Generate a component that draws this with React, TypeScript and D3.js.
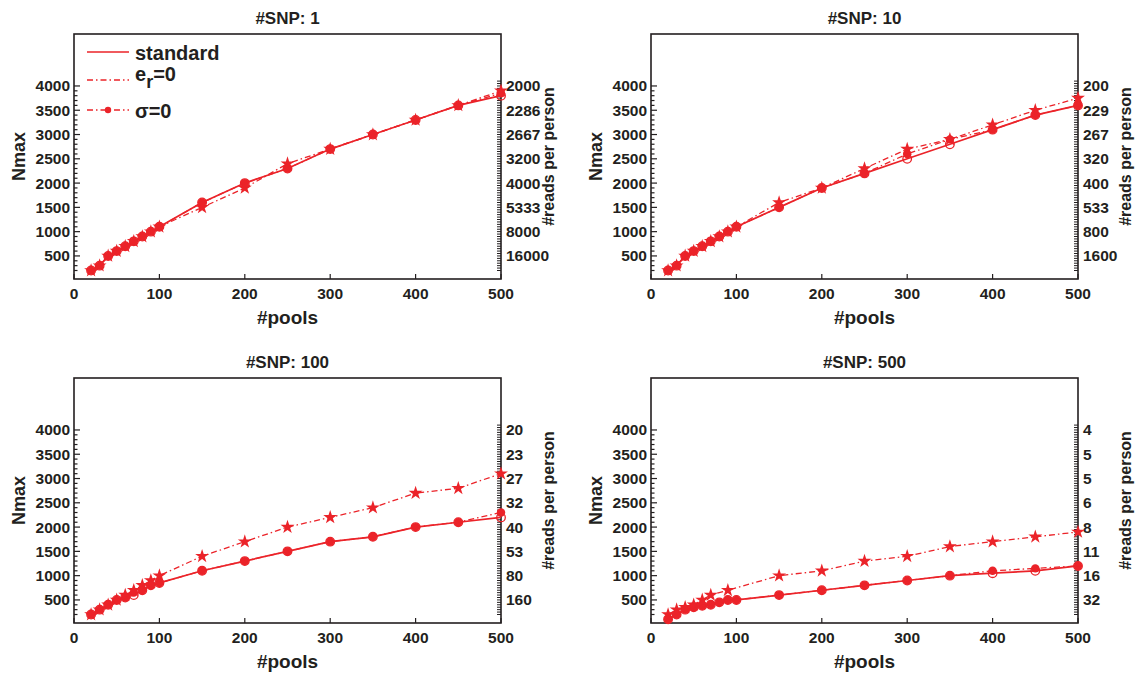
import { useEffect, useRef } from "react";
import * as d3 from "d3";

// x values shared by every panel
const pools = [20, 30, 40, 50, 60, 70, 80, 90, 100, 150, 200, 250, 300, 350, 400, 450, 500];
const snpTitles = ["#SNP: 1", "#SNP: 10", "#SNP: 100", "#SNP: 500"];

const standardSnp1 = [200, 300, 500, 600, 700, 800, 900, 1000, 1100, 1600, 2000, 2300, 2700, 3000, 3300, 3600, 3800];
const erSnp1 = [200, 300, 500, 600, 700, 800, 900, 1000, 1100, 1500, 1900, 2400, 2700, 3000, 3300, 3600, 3900];
const sigmaSnp1 = [200, 300, 500, 600, 700, 800, 900, 1000, 1100, 1600, 2000, 2300, 2700, 3000, 3300, 3600, 3850];

const standardSnp10 = [200, 300, 500, 600, 700, 800, 900, 1000, 1100, 1500, 1900, 2200, 2500, 2800, 3100, 3400, 3600];
const erSnp10 = [200, 300, 500, 600, 700, 800, 900, 1000, 1100, 1600, 1900, 2300, 2700, 2900, 3200, 3500, 3750];
const sigmaSnp10 = [200, 300, 500, 600, 700, 800, 900, 1000, 1100, 1500, 1900, 2200, 2600, 2900, 3100, 3400, 3600];

const standardSnp100 = [200, 300, 400, 500, 550, 600, 700, 800, 850, 1100, 1300, 1500, 1700, 1800, 2000, 2100, 2200];
const erSnp100 = [200, 300, 400, 500, 600, 700, 800, 900, 1000, 1400, 1700, 2000, 2200, 2400, 2700, 2800, 3100];
const sigmaSnp100 = [200, 300, 400, 500, 550, 650, 700, 800, 850, 1100, 1300, 1500, 1700, 1800, 2000, 2100, 2300];

const standardSnp500 = [100, 200, 300, 350, 380, 400, 450, 500, 500, 600, 700, 800, 900, 1000, 1050, 1100, 1200];
const erSnp500 = [200, 300, 350, 400, 500, 600, null, 700, null, 1000, 1100, 1300, 1400, 1600, 1700, 1800, 1900];
const sigmaSnp500 = [100, 200, 300, 350, 380, 400, 450, 500, 500, 600, 700, 800, 900, 1000, 1100, 1150, 1200];

// left axis ticks and the matching right-axis labels (#reads per person)
const nmaxTicks = [500, 1000, 1500, 2000, 2500, 3000, 3500, 4000];
const readsSnp1 = ["16000", "8000", "5333", "4000", "3200", "2667", "2286", "2000"];
const readsSnp10 = ["1600", "800", "533", "400", "320", "267", "229", "200"];
const readsSnp100 = ["160", "80", "53", "40", "32", "27", "23", "20"];
const readsSnp500 = ["32", "16", "11", "8", "6", "5", "5", "4"];
const poolTicks = [0, 100, 200, 300, 400, 500];

const legendLabels = ["standard", "e_r=0", "σ=0"];

const RED = "#eb2329";
const INK = "#231f20";
const FONT = "'Liberation Sans', Arial, Helvetica, sans-serif";

const panelLefts = [74, 651];
const panelTops = [34, 378];
const panelW = 427;
const panelH = 245;

type Pt = { x: number; v: number };

export default function App() {
    const svgRef = useRef<SVGSVGElement>(null);

    useEffect(() => {
        const svgEl = svgRef.current;
        if (!svgEl) return;
        d3.select(svgEl).selectAll("*").remove();
        const svg = d3.select(svgEl);

        const panels = [
            { title: snpTitles[0], std: standardSnp1, er: erSnp1, sigma: sigmaSnp1, reads: readsSnp1 },
            { title: snpTitles[1], std: standardSnp10, er: erSnp10, sigma: sigmaSnp10, reads: readsSnp10 },
            { title: snpTitles[2], std: standardSnp100, er: erSnp100, sigma: sigmaSnp100, reads: readsSnp100 },
            { title: snpTitles[3], std: standardSnp500, er: erSnp500, sigma: sigmaSnp500, reads: readsSnp500 },
        ];

        panels.forEach((p, i) => {
            const left = panelLefts[i % 2];
            const top = panelTops[Math.floor(i / 2)];
            const right = left + panelW;
            const bottom = top + panelH;

            const x = d3.scaleLinear().domain([0, 500]).range([left, right]);
            const y = d3.scaleLinear().domain([25, 5070]).range([bottom, top]);

            const g = svg.append("g");

            // box
            g.append("rect")
                .attr("x", left).attr("y", top)
                .attr("width", panelW).attr("height", panelH)
                .attr("fill", "none").attr("stroke", INK).attr("stroke-width", 1.6);

            // left minor + major ticks
            const minor = d3.range(200, 4001, 100);
            g.append("g").selectAll("line").data(minor).join("line")
                .attr("x1", left).attr("x2", d => left + (d % 500 === 0 ? 6 : 3.5))
                .attr("y1", d => y(d)).attr("y2", d => y(d))
                .attr("stroke", INK).attr("stroke-width", 1.2);

            // right dense ticks
            const rightMinor = d3.range(200, 4101, 50);
            g.append("g").selectAll("line").data(rightMinor).join("line")
                .attr("x1", right).attr("x2", right - 4)
                .attr("y1", d => y(d)).attr("y2", d => y(d))
                .attr("stroke", INK).attr("stroke-width", 1);

            // bottom ticks
            g.append("g").selectAll("line").data(poolTicks).join("line")
                .attr("x1", d => x(d)).attr("x2", d => x(d))
                .attr("y1", bottom).attr("y2", bottom - 5)
                .attr("stroke", INK).attr("stroke-width", 1.2);

            // left tick labels
            g.append("g").selectAll("text").data(nmaxTicks).join("text")
                .attr("x", left - 4).attr("y", d => y(d) + 5.5)
                .attr("text-anchor", "end")
                .attr("font-family", FONT).attr("font-weight", "bold").attr("font-size", 15.5)
                .attr("fill", INK)
                .text(d => String(d));

            // right tick labels
            g.append("g").selectAll("text").data(nmaxTicks).join("text")
                .attr("x", right + 5).attr("y", (d) => y(d) + 5.5)
                .attr("text-anchor", "start")
                .attr("font-family", FONT).attr("font-weight", "bold").attr("font-size", 15.5)
                .attr("fill", INK)
                .text((_d, k) => p.reads[k]);

            // x tick labels
            g.append("g").selectAll("text").data(poolTicks).join("text")
                .attr("x", d => x(d)).attr("y", bottom + 20)
                .attr("text-anchor", "middle")
                .attr("font-family", FONT).attr("font-weight", "bold").attr("font-size", 15.5)
                .attr("fill", INK)
                .text(d => String(d));

            // title and axis labels
            g.append("text")
                .attr("x", (left + right) / 2).attr("y", top - 10)
                .attr("text-anchor", "middle")
                .attr("font-family", FONT).attr("font-weight", "bold").attr("font-size", 17)
                .attr("fill", INK).text(p.title);

            g.append("text")
                .attr("x", (left + right) / 2).attr("y", bottom + 45)
                .attr("text-anchor", "middle")
                .attr("font-family", FONT).attr("font-weight", "bold").attr("font-size", 19)
                .attr("fill", INK).text("#pools");

            g.append("text")
                .attr("transform", `translate(${left - 49},${(top + bottom) / 2}) rotate(-90)`)
                .attr("text-anchor", "middle")
                .attr("font-family", FONT).attr("font-weight", "bold").attr("font-size", 18)
                .attr("fill", INK).text("Nmax");

            g.append("text")
                .attr("transform", `translate(${right + 53},${(top + bottom) / 2}) rotate(-90)`)
                .attr("text-anchor", "middle")
                .attr("font-family", FONT).attr("font-weight", "bold").attr("font-size", 16)
                .attr("fill", INK).text("#reads per person");

            // points without a reading are dropped, the line joins its neighbours
            const series = (vals: (number | null)[]): Pt[] =>
                pools.map((px, k) => ({ x: px, v: vals[k] }))
                    .filter((d): d is Pt => d.v != null);

            const line = d3.line<Pt>()
                .x(d => x(d.x))
                .y(d => y(d.v));

            const erData = series(p.er);
            const sigmaData = series(p.sigma);
            const stdData = series(p.std);

            // e_r = 0: dash-dot with stars
            g.append("path").datum(erData)
                .attr("d", line).attr("fill", "none")
                .attr("stroke", RED).attr("stroke-width", 1.3)
                .attr("stroke-dasharray", "6,3,1.5,3");
            g.append("g").selectAll("path").data(erData).join("path")
                .attr("transform", d => `translate(${x(d.x)},${y(d.v)})`)
                .attr("d", d3.symbol(d3.symbolStar, 60)())
                .attr("fill", RED);

            // sigma = 0: dash-dot with filled dots
            g.append("path").datum(sigmaData)
                .attr("d", line).attr("fill", "none")
                .attr("stroke", RED).attr("stroke-width", 1.3)
                .attr("stroke-dasharray", "6,3,1.5,3");
            g.append("g").selectAll("circle").data(sigmaData).join("circle")
                .attr("cx", d => x(d.x)).attr("cy", d => y(d.v))
                .attr("r", 4.2).attr("fill", RED);

            // standard: solid with open circles
            g.append("path").datum(stdData)
                .attr("d", line).attr("fill", "none")
                .attr("stroke", RED).attr("stroke-width", 1.7);
            g.append("g").selectAll("circle").data(stdData).join("circle")
                .attr("cx", d => x(d.x)).attr("cy", d => y(d.v))
                .attr("r", 4.3).attr("fill", "none")
                .attr("stroke", RED).attr("stroke-width", 1.3);

            if (i === 0) {
                const lg = g.append("g");
                const rows = [52, 80, 110];
                const x0 = 87, x1 = 129;
                lg.append("line").attr("x1", x0).attr("x2", x1).attr("y1", rows[0]).attr("y2", rows[0])
                    .attr("stroke", RED).attr("stroke-width", 1.7);
                lg.append("line").attr("x1", x0).attr("x2", x1).attr("y1", rows[1]).attr("y2", rows[1])
                    .attr("stroke", RED).attr("stroke-width", 1.3).attr("stroke-dasharray", "6,3,1.5,3");
                lg.append("line").attr("x1", x0).attr("x2", x1).attr("y1", rows[2]).attr("y2", rows[2])
                    .attr("stroke", RED).attr("stroke-width", 1.3).attr("stroke-dasharray", "6,3,1.5,3");
                lg.append("circle").attr("cx", (x0 + x1) / 2).attr("cy", rows[2]).attr("r", 3.2).attr("fill", RED);

                const txt = (yy: number) => lg.append("text")
                    .attr("x", 135).attr("y", yy)
                    .attr("font-family", FONT).attr("font-weight", "bold").attr("font-size", 20)
                    .attr("fill", INK);
                txt(60).text(legendLabels[0]);
                const er = txt(81);
                er.append("tspan").text("e");
                er.append("tspan").attr("dy", 7).attr("font-size", 18).text("r");
                er.append("tspan").attr("dy", -7).text(legendLabels[1].slice(3));
                txt(118).text(legendLabels[2]);
            }
        });
    }, []);

    return (
        <div style={{ position: "absolute", left: 0, top: 0 }}>
            <svg ref={svgRef} width={1137} height={676} style={{ display: "block", background: "#fff" }} />
        </div>
    );
}
